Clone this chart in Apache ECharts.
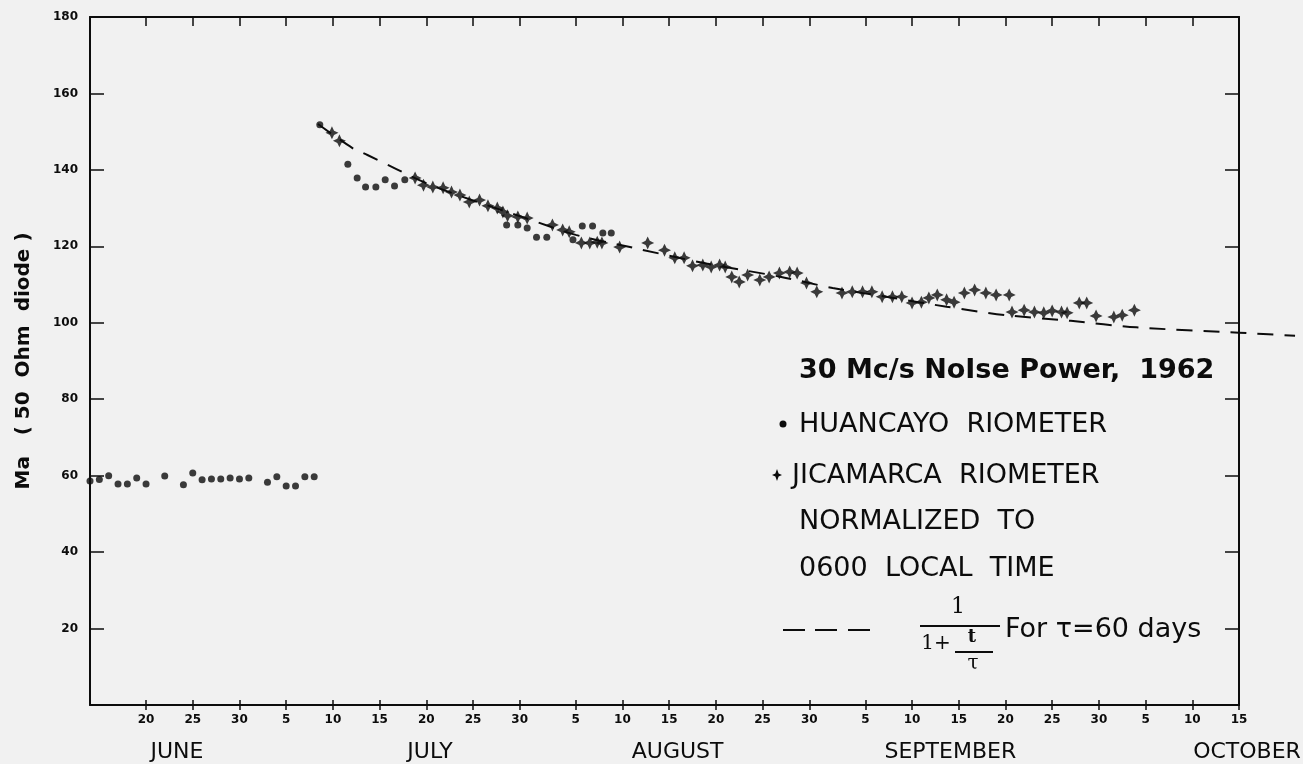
<!DOCTYPE html>
<html>
<head>
<meta charset="utf-8">
<title>30 Mc/s Noise Power, 1962</title>
<script src="https://cdn.jsdelivr.net/npm/echarts@6/dist/echarts.min.js"></script>
<style>
  html, body { margin: 0; padding: 0; background: #f1f1f1; }
  #main { width: 1303px; height: 764px; }
</style>
</head>
<body>
<div id="main"></div>
<script>
// x values are day numbers counted from May 31 1962 (June 1 = 1, July 1 = 31, Aug 1 = 62, Sep 1 = 93, Oct 1 = 123)
const dayTicks = [20, 25, 30, 35, 40, 45, 50, 55, 60, 66, 71, 76, 81, 86, 91, 97, 102, 107, 112, 117, 122, 127, 132, 137];
const dayTickLabels = ['20', '25', '30', '5', '10', '15', '20', '25', '30', '5', '10', '15', '20', '25', '30', '5', '10', '15', '20', '25', '30', '5', '10', '15'];
const monthPos = [23.3, 50.4, 76.9, 106.1, 137];
const monthNames = ['JUNE', 'JULY', 'AUGUST', 'SEPTEMBER', 'OCTOBER'];

// Huancayo riometer (dots)
const huancayo = [
  [14, 58.6], [15, 59.0], [16, 60.0], [17, 57.8], [18, 57.8], [19, 59.4], [20, 57.8], [22, 59.9],
  [24, 57.6], [25, 60.7], [26, 58.9], [27, 59.1], [28, 59.1], [29, 59.4], [30, 59.1], [31, 59.4],
  [33, 58.3], [34, 59.7], [35, 57.3], [36, 57.3], [37, 59.7], [38, 59.7],
  [38.6, 151.8], [41.6, 141.5], [42.6, 137.9], [43.5, 135.5], [44.6, 135.5], [45.6, 137.4], [46.6, 135.8], [47.7, 137.4],
  [58.6, 125.6], [59.8, 125.6], [60.8, 124.8], [61.8, 122.4], [62.9, 122.4], [65.7, 121.7],
  [66.7, 125.3], [67.8, 125.3], [68.9, 123.5], [69.8, 123.5]
];

// Jicamarca riometer (stars)
const jicamarca = [
  [39.9, 149.7], [40.7, 147.6],
  [48.8, 137.9], [49.7, 136.0], [50.7, 135.5], [51.8, 135.3], [52.7, 134.2], [53.6, 133.4],
  [54.6, 131.6], [55.7, 132.1], [56.6, 130.6], [57.6, 130.0], [58.2, 129.0], [58.7, 128.0], [59.8, 127.7], [60.8, 127.4],
  [63.5, 125.6], [64.6, 124.3], [65.3, 123.8],
  [66.6, 120.9], [67.5, 120.9], [68.3, 121.1], [68.8, 120.9], [70.7, 119.8], [73.7, 120.9],
  [75.5, 119.0], [76.6, 117.0], [77.6, 117.0], [78.5, 114.9], [79.6, 115.1], [80.5, 114.6], [81.4, 115.1], [82.0, 114.6],
  [82.7, 112.0], [83.5, 110.7], [84.4, 112.5], [85.7, 111.2], [86.7, 112.0], [87.8, 113.0], [88.9, 113.3], [89.7, 113.0],
  [90.7, 110.4], [91.8, 108.1], [94.5, 107.8], [95.6, 108.1], [96.7, 108.1], [97.7, 108.1], [98.8, 106.8], [99.9, 106.8],
  [100.9, 106.8], [102.0, 105.2], [103.0, 105.4], [103.8, 106.5], [104.7, 107.3], [105.7, 106.0], [106.5, 105.4],
  [107.6, 107.8], [108.7, 108.6], [109.9, 107.8], [111.0, 107.3], [112.4, 107.3],
  [112.7, 102.8], [114.0, 103.3], [115.1, 102.8], [116.1, 102.6], [117.0, 103.1], [118.0, 102.8], [118.6, 102.6],
  [119.9, 105.2], [120.7, 105.2], [121.7, 101.8], [123.6, 101.5], [124.5, 102.0], [125.8, 103.3]
];

// dashed curve 1/(1+t/tau) (it runs past the frame on the right)
const fitDays = [38.4, 42.1, 43.7, 46.8, 50, 55, 60.5, 66, 71.8, 80, 88, 93.5, 100, 105.7, 112, 119, 126, 137, 143];
const fitMa = [152.0, 145.7, 143.9, 140.2, 136.5, 132.0, 127.5, 123.0, 119.8, 115.5, 112.0, 109.1, 106.5, 104.2, 102.0, 100.5, 98.8, 97.4, 96.6];

const ink = '#0c0c0c';
const FONT = 'DejaVu Sans';
const starPath = 'path://M0,-10 L3.2,-3.2 L10,0 L3.2,3.2 L0,10 L-3.2,3.2 L-10,0 L-3.2,-3.2 Z';

// frame: June 14 .. Oct 15, the curve's own grid runs on to day 143 with the same scale
const X_MIN = 14, X_MAX = 137, CURVE_MAX = 143;
const frameWidth = 1149;
const curveWidth = frameWidth * (CURVE_MAX - X_MIN) / (X_MAX - X_MIN);

const chart = echarts.init(document.getElementById('main'));

const tickLabel = { color: ink, fontFamily: FONT, fontSize: 12, fontWeight: 'bold' };
const noteFont = '27px "DejaVu Sans"';

chart.setOption({
  backgroundColor: '#f1f1f1',
  animation: false,
  grid: [
    { left: 90, top: 17, width: frameWidth, height: 688, containLabel: false, outerBoundsMode: 'none' },
    { left: 90, top: 17, width: curveWidth, height: 688, containLabel: false, outerBoundsMode: 'none' }
  ],
  xAxis: [
    {
      type: 'value', min: X_MIN, max: X_MAX, position: 'bottom',
      axisLine: { lineStyle: { color: ink, width: 2 } },
      axisTick: { customValues: dayTicks, length: 5, lineStyle: { color: ink, width: 1.5 } },
      axisLabel: Object.assign({
        customValues: dayTicks, margin: 9,
        formatter: v => dayTickLabels[dayTicks.indexOf(v)] || ''
      }, tickLabel),
      splitLine: { show: false }
    },
    {
      type: 'value', min: X_MIN, max: X_MAX, position: 'bottom',
      axisLine: { show: false },
      axisTick: { customValues: dayTicks, inside: true, length: 5, lineStyle: { color: ink, width: 1.5 } },
      axisLabel: { show: false },
      splitLine: { show: false }
    },
    {
      type: 'value', min: X_MIN, max: X_MAX, position: 'bottom',
      axisLine: { show: false },
      axisTick: { show: false },
      axisLabel: {
        customValues: monthPos, margin: 36,
        color: ink, fontFamily: FONT, fontSize: 22,
        formatter: v => {
          const i = monthPos.indexOf(v);
          return i === monthNames.length - 1 ? '{end|' + monthNames[i] + '}' : monthNames[i];
        },
        rich: { end: { padding: [0, 0, 0, 16], color: ink, fontFamily: FONT, fontSize: 22 } }
      },
      splitLine: { show: false }
    },
    {
      type: 'value', min: X_MIN, max: X_MAX, position: 'top',
      axisLine: { lineStyle: { color: ink, width: 2 } },
      axisTick: { customValues: dayTicks, inside: true, length: 9, lineStyle: { color: ink, width: 1.5 } },
      axisLabel: { show: false },
      splitLine: { show: false }
    },
    { type: 'value', gridIndex: 1, min: X_MIN, max: CURVE_MAX, show: false }
  ],
  yAxis: [
    {
      type: 'value', min: 0, max: 180, interval: 20, position: 'left',
      name: 'Ma   ( 50  Ohm  diode )', nameLocation: 'middle', nameGap: 56, nameRotate: 90,
      nameTextStyle: { color: ink, fontFamily: FONT, fontSize: 20, fontWeight: 'bold' },
      axisLine: { show: true, lineStyle: { color: ink, width: 2 } },
      axisTick: { show: true, inside: true, length: 14, lineStyle: { color: ink, width: 1.5 } },
      axisLabel: Object.assign({ margin: 12, formatter: v => (v === 0 ? '' : String(v)) }, tickLabel),
      splitLine: { show: false }
    },
    {
      type: 'value', min: 0, max: 180, interval: 20, position: 'right',
      axisLine: { show: true, lineStyle: { color: ink, width: 2 } },
      axisTick: { show: true, inside: true, length: 14, lineStyle: { color: ink, width: 1.5 } },
      axisLabel: { show: false },
      splitLine: { show: false }
    },
    { type: 'value', gridIndex: 1, min: 0, max: 180, show: false }
  ],
  series: [
    {
      name: '1/(1+t/τ)', type: 'line', xAxisIndex: 4, yAxisIndex: 2,
      data: fitDays.map((d, i) => [d, fitMa[i]]),
      showSymbol: false, smooth: 0.3, z: 1,
      lineStyle: { color: ink, width: 2, type: [16, 11] }
    },
    {
      name: 'HUANCAYO RIOMETER', type: 'scatter', data: huancayo,
      symbol: 'circle', symbolSize: 7, itemStyle: { color: ink }, clip: false, z: 3
    },
    {
      name: 'JICAMARCA RIOMETER', type: 'scatter', data: jicamarca,
      symbol: starPath, symbolSize: 13, itemStyle: { color: ink }, clip: false, z: 3
    }
  ],
  graphic: [
    { type: 'text', x: 799, y: 371, style: { text: '30 Mc/s NoIse Power,  1962', fill: ink, font: 'bold 27px "DejaVu Sans"', verticalAlign: 'middle' } },
    { type: 'circle', shape: { cx: 783, cy: 424, r: 3.5 }, style: { fill: ink } },
    { type: 'text', x: 799, y: 425, style: { text: 'HUANCAYO  RIOMETER', fill: ink, font: noteFont, verticalAlign: 'middle' } },
    { type: 'polygon', shape: { points: [[777, 469], [778.6, 473.4], [782, 475], [778.6, 476.6], [777, 481], [775.4, 476.6], [772, 475], [775.4, 473.4]] }, style: { fill: ink } },
    { type: 'text', x: 792, y: 476, style: { text: 'JICAMARCA  RIOMETER', fill: ink, font: noteFont, verticalAlign: 'middle' } },
    { type: 'text', x: 799, y: 522, style: { text: 'NORMALIZED  TO', fill: ink, font: noteFont, verticalAlign: 'middle' } },
    { type: 'text', x: 799, y: 569, style: { text: '0600  LOCAL  TIME', fill: ink, font: noteFont, verticalAlign: 'middle' } },
    { type: 'line', shape: { x1: 783, y1: 630, x2: 805, y2: 630 }, style: { stroke: ink, lineWidth: 2 } },
    { type: 'line', shape: { x1: 815, y1: 630, x2: 837, y2: 630 }, style: { stroke: ink, lineWidth: 2 } },
    { type: 'line', shape: { x1: 848, y1: 630, x2: 870, y2: 630 }, style: { stroke: ink, lineWidth: 2 } },
    { type: 'text', x: 958, y: 607, style: { text: '1', fill: ink, font: '22px "DejaVu Serif"', align: 'center', verticalAlign: 'middle' } },
    { type: 'line', shape: { x1: 920, y1: 626, x2: 1000, y2: 626 }, style: { stroke: ink, lineWidth: 2 } },
    { type: 'text', x: 936, y: 644, style: { text: '1+', fill: ink, font: '20px "DejaVu Serif"', align: 'center', verticalAlign: 'middle' } },
    { type: 'text', x: 972, y: 637, style: { text: 't', fill: ink, font: 'bold 18px "DejaVu Serif"', align: 'center', verticalAlign: 'middle' } },
    { type: 'line', shape: { x1: 955, y1: 652, x2: 993, y2: 652 }, style: { stroke: ink, lineWidth: 2 } },
    { type: 'text', x: 973, y: 664, style: { text: 'τ', fill: ink, font: '20px "DejaVu Serif"', align: 'center', verticalAlign: 'middle' } },
    { type: 'text', x: 1005, y: 630, style: { text: 'For τ=60 days', fill: ink, font: noteFont, verticalAlign: 'middle' } }
  ]
});
</script>
</body>
</html>
